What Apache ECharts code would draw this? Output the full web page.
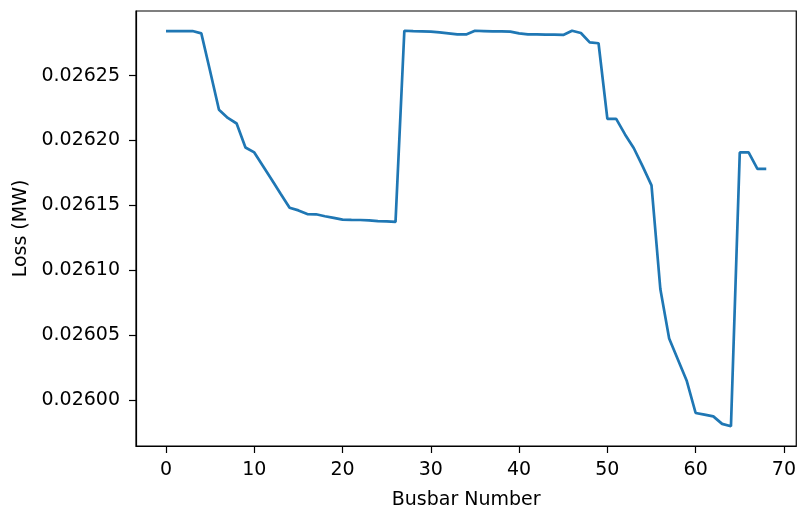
<!DOCTYPE html>
<html>
<head>
<meta charset="utf-8">
<script src="https://cdn.jsdelivr.net/npm/echarts@6/dist/echarts.min.js"></script>
<style>
html,body{margin:0;padding:0;background:#fff;}
#c{width:799px;height:515px;}
</style>
</head>
<body>
<div id="c"></div>
<script>
const busbar = [0,1,2,3,4,5,6,7,8,9,10,11,12,13,14,15,16,17,18,19,20,21,22,23,24,25,26,27,28,29,30,31,32,33,34,35,36,37,38,39,40,41,42,43,44,45,46,47,48,49,50,51,52,53,54,55,56,57,58,59,60,61,62,63,64,65,66,67,68];
const loss = [
  0.0262844,0.0262844,0.0262844,0.0262844,0.0262826,0.0262534,0.0262237,0.0262174,0.0262131,0.0261946,
  0.0261908,0.0261801,0.0261695,0.0261588,0.0261482,0.0261461,0.0261433,0.0261431,0.0261416,0.0261403,
  0.0261390,0.0261388,0.0261387,0.0261384,0.0261379,0.0261376,0.0261373,0.0262846,0.0262843,0.0262842,
  0.0262840,0.0262834,0.0262826,0.0262818,0.0262818,0.0262846,0.0262844,0.0262841,0.0262841,0.0262839,
  0.0262826,0.0262818,0.0262818,0.0262816,0.0262816,0.0262814,0.0262846,0.0262829,0.0262757,0.0262750,
  0.0262167,0.0262167,0.0262047,0.0261940,0.0261800,0.0261654,0.0260855,0.0260474,0.0260310,0.0260145,
  0.0259899,0.0259886,0.0259873,0.0259815,0.0259797,0.0261908,0.0261908,0.0261781,0.0261781
];
const xTicks = [0,10,20,30,40,50,60,70];
const yTicks = [0.02600,0.02605,0.02610,0.02615,0.02620,0.02625];

const FONT = 'DejaVu Sans';
const chart = echarts.init(document.getElementById('c'), null, {renderer:'canvas'});
const xMin = busbar[0] - 0.05*(busbar[busbar.length-1]-busbar[0]);
const xMax = busbar[busbar.length-1] + 0.05*(busbar[busbar.length-1]-busbar[0]);
const lMin = Math.min(...loss), lMax = Math.max(...loss);
const yMin = lMin - 0.05*(lMax-lMin), yMax = lMax + 0.05*(lMax-lMin);

chart.setOption({
  animation:false,
  backgroundColor:'#fff',
  grid:{left:136,right:1,top:11,bottom:64,show:true,borderColor:'#000',borderWidth:1.2,backgroundColor:'transparent'},
  xAxis:{
    type:'value',min:xMin,max:xMax,
    name:'Busbar Number',nameLocation:'middle',nameGap:45,
    nameTextStyle:{fontFamily:FONT,fontSize:19,color:'#000'},
    axisLine:{show:true,onZero:false,lineStyle:{color:'#000',width:1.2}},
    axisTick:{show:true,length:7,lineStyle:{color:'#000',width:1.2},customValues:xTicks},
    axisLabel:{fontFamily:FONT,fontSize:19,color:'#000',margin:15,customValues:xTicks},
    splitLine:{show:false}
  },
  yAxis:{
    type:'value',min:yMin,max:yMax,
    name:'Loss (MW)',nameLocation:'middle',nameGap:105,
    nameTextStyle:{fontFamily:FONT,fontSize:19,color:'#000'},
    axisLine:{show:true,onZero:false,lineStyle:{color:'#000',width:1.2}},
    axisTick:{show:true,length:7,lineStyle:{color:'#000',width:1.2},customValues:yTicks},
    axisLabel:{fontFamily:FONT,fontSize:19,color:'#000',margin:16,customValues:yTicks,formatter:v=>v.toFixed(5)},
    splitLine:{show:false}
  },
  series:[{
    type:'line',
    data:busbar.map((x,i)=>[x,loss[i]]),
    showSymbol:false,symbol:'none',
    lineStyle:{color:'#1f77b4',width:2.7},
    itemStyle:{color:'#1f77b4'}
  }]
});
</script>
</body>
</html>
